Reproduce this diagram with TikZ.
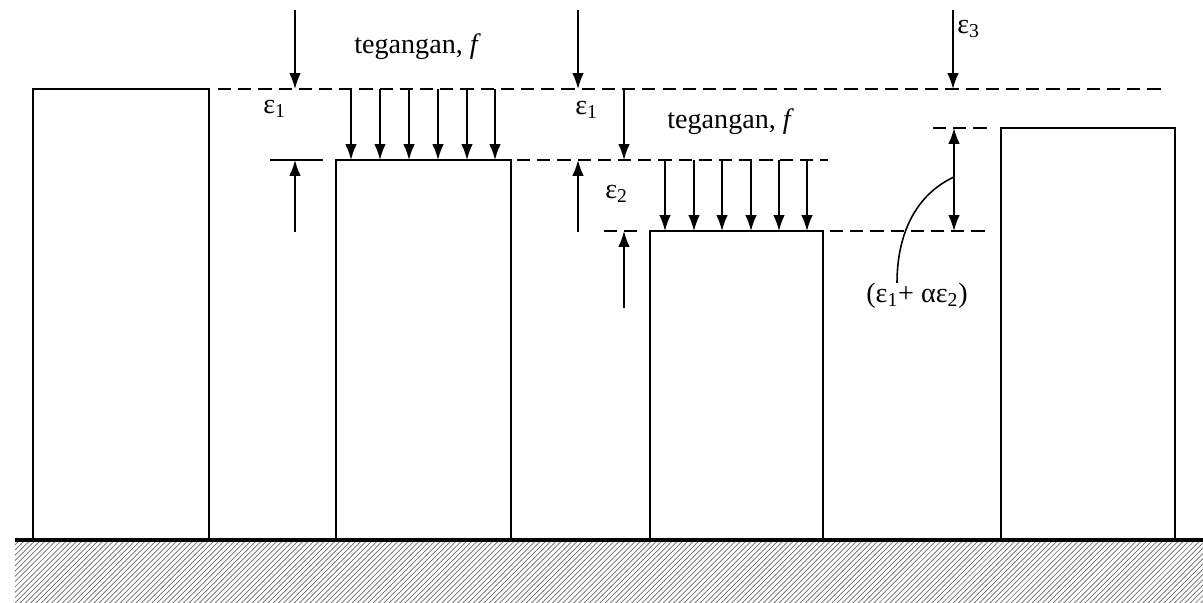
\documentclass[tikz,border=0pt]{standalone}
\usepackage{fontspec}
\setmainfont{Liberation Serif}
\usetikzlibrary{arrows.meta,patterns}

\tikzset{
  dimarrow/.style={line width=0.9pt,-{Latex[length=9pt,width=6.5pt]}},
  bothdim/.style={line width=0.9pt,{Latex[length=9pt,width=6.5pt]}-{Latex[length=9pt,width=6.5pt]}},
  level/.style={line width=1.2pt,dash pattern=on 7.5pt off 4pt},
  block/.style={line width=1.2pt},
  lbl/.style={inner sep=0pt,anchor=base west,font=\fontsize{16}{19}\selectfont},
}

\begin{document}
\begin{tikzpicture}[x=0.02cm,y=-0.02cm]
\useasboundingbox (0,0) rectangle (1203,602);

% ground
\fill[pattern=north east lines,pattern color=gray!85!black] (15,540) rectangle (1203,602);
\draw[line width=2pt] (15,540) -- (1203,540);

% blocks
\draw[block] (33,540) -- (33,89) -- (209,89) -- (209,540);
\draw[block] (336,540) -- (336,160) -- (511,160) -- (511,540);
\draw[block] (650,540) -- (650,231) -- (823,231) -- (823,540);
\draw[block] (1001,540) -- (1001,128) -- (1175,128) -- (1175,540);

% levels
\draw[level] (218,89) -- (1162,89);
\draw[block] (270,160) -- (323,160);
\draw[level] (517,160) -- (828,160);
\draw[level] (604,231) -- (638,231);
\draw[level] (830,231) -- (990,231);
\draw[level] (933,128) -- (990,128);

%--------------------------------------------------------

\draw[dimarrow] (295,10) -- (295,89);
\draw[dimarrow] (295,232) -- (295,160);
\node[lbl] (eps1a) at (263,113) {ε\textsubscript{1}};

\node[lbl] (tegA) at (354,53) {tegangan, \textit{f}};
\draw[dimarrow] (351,89) -- (351,160);
\draw[dimarrow] (380,89) -- (380,160);
\draw[dimarrow] (409,89) -- (409,160);
\draw[dimarrow] (438,89) -- (438,160);
\draw[dimarrow] (467,89) -- (467,160);
\draw[dimarrow] (495,89) -- (495,160);

%--------------------------------------------------------

\draw[dimarrow] (578,10) -- (578,89);
\draw[dimarrow] (578,232) -- (578,160);
\node[lbl] (eps1b) at (575,114) {ε\textsubscript{1}};

\draw[dimarrow] (624,89) -- (624,160);
\draw[dimarrow] (624,308) -- (624,231);
\node[lbl] (eps2) at (605,198) {ε\textsubscript{2}};

\node[lbl] (tegB) at (667,128) {tegangan, \textit{f}};
\draw[dimarrow] (665,160) -- (665,231);
\draw[dimarrow] (694,160) -- (694,231);
\draw[dimarrow] (722,160) -- (722,231);
\draw[dimarrow] (751,160) -- (751,231);
\draw[dimarrow] (779,160) -- (779,231);
\draw[dimarrow] (807,160) -- (807,231);

%--------------------------------------------------------

\draw[dimarrow] (953,10) -- (953,89);
\node[lbl] (eps3) at (957,33) {ε\textsubscript{3}};

\draw[bothdim] (954,128) -- (954,231);
\node[lbl] (sum) at (866,302) {(ε\textsubscript{1}+ αε\textsubscript{2})};
\draw[line width=0.9pt] (954,177) .. controls (915,195) and (897,235) .. (897,283);
\end{tikzpicture}
\end{document}
